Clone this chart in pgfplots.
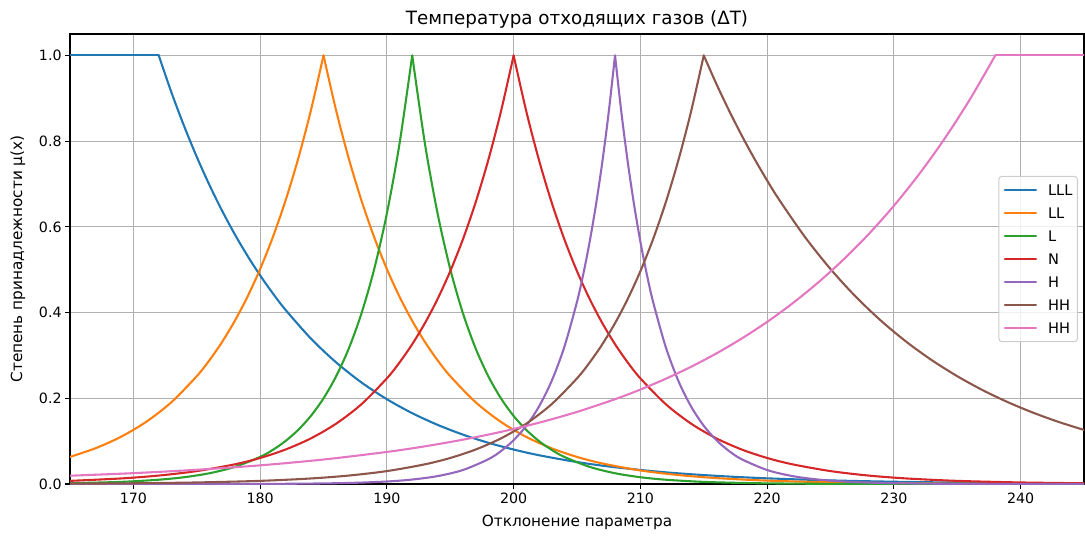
\documentclass[border=0pt]{standalone}
\usepackage{fontspec}
\setmainfont{DejaVu Sans}
\usepackage{pgfplots}
\pgfplotsset{compat=1.18}
\definecolor{c0}{HTML}{1F77B4}
\definecolor{c1}{HTML}{FF7F0E}
\definecolor{c2}{HTML}{2CA02C}
\definecolor{c3}{HTML}{D62728}
\definecolor{c4}{HTML}{9467BD}
\definecolor{c5}{HTML}{8C564B}
\definecolor{c6}{HTML}{E377C2}
\definecolor{gridc}{HTML}{B0B0B0}
\definecolor{legedge}{HTML}{CCCCCC}
\begin{document}
\begin{tikzpicture}
\begin{axis}[
  scale only axis, width=1014pt, height=450pt,
  xmin=165, xmax=245, ymin=0, ymax=1.05,
  xtick={170,180,190,200,210,220,230,240},
  ytick={0,0.2,0.4,0.6,0.8,1},
  /pgf/number format/assume math mode=true,
  yticklabel style={/pgf/number format/.cd, fixed, fixed zerofill, precision=1},
  scaled y ticks=false,
  ticklabel style={font=\fontsize{14.2}{16}\selectfont},
  tick align=outside, tick pos=left, major tick length=4.9pt,
  tick style={black, line width=1.1pt},
  axis line style={black, line width=1.1pt},
  grid=major, grid style={color=gridc, line width=1.1pt},
  title={Температура отходящих газов (ΔT)},
  every axis title/.style={at={(axis description cs:0.5,1)}, anchor=base, yshift=9.5pt, font=\fontsize{18.3}{21}\selectfont},
  xlabel={Отклонение параметра},
  xlabel style={font=\fontsize{15.3}{18}\selectfont, at={(axis description cs:0.5,0)}, anchor=base, yshift=-42pt},
  ylabel={Степень принадлежности μ(x)},
  ylabel style={font=\fontsize{15.3}{18}\selectfont, at={(axis description cs:-0.0473,0.5)}, anchor=base},
  legend cell align=left,
  legend image code/.code={\draw[line width=2.08pt] (0pt,0pt) -- (31pt,0pt);},
  legend style={at={(axis description cs:0.994,0.5)}, anchor=east, draw=legedge, line width=1pt, rounded corners=3pt,
    fill=white, fill opacity=0.8, text opacity=1, draw opacity=1,
    inner xsep=5pt, inner ysep=8pt, row sep=12.5pt, column sep=11pt,
    font=\fontsize{14.6}{17}\selectfont,
    nodes={inner sep=0pt, text height=10.6pt, text depth=0pt}},
  every axis plot/.append style={line width=2.08pt, line join=round, line cap=round, no markers},
]
% LLL
\addplot[c0, forget plot] coordinates {(165,1) (172,1)};
\addplot[c0, smooth] coordinates {(172,1) (173,.9139) (174,.8353) (175,.7634) (176,.6977) (177,.6376) (178,.5827) (179,.5326) (180,.4868) (181,.4449) (182,.4066) (184,.3396) (186,.2837) (188,.2369) (190,.1979) (192,.1653) (194,.1381) (196,.1153) (198,.0963) (200,.0805) (202,.0672) (205,.0513) (208,.0392) (212,.0273) (216,.0191) (220,.0133) (225,.0085) (230,.0054) (235,.0034) (240,.0022) (245,.0014)};
\addlegendentry{LLL}
% LL
\addplot[c1, smooth, forget plot] coordinates {(165,.0633) (167,.0834) (169,.1099) (171,.1449) (173,.1909) (175,.2516) (176,.2888) (177,.3315) (178,.3806) (179,.4369) (180,.5016) (181,.5758) (182,.6610) (183,.7588) (184,.8711) (185,1)};
\addplot[c1, smooth] coordinates {(185,1) (186,.8711) (187,.7588) (188,.6610) (189,.5758) (190,.5016) (191,.4369) (192,.3806) (193,.3315) (194,.2888) (195,.2516) (197,.1909) (199,.1449) (201,.1099) (203,.0834) (205,.0633) (207,.0480) (210,.0317) (213,.0210) (216,.0139) (220,.0080) (225,.0040) (230,.0020) (235,.0010) (245,.0003)};
\addlegendentry{LL}
% L
\addplot[c2, smooth, forget plot] coordinates {(165,.0020) (169,.0050) (172,.0101) (174,.0159) (176,.0252) (178,.0400) (180,.0633) (181,.0797) (182,.1003) (183,.1262) (184,.1588) (185,.1999) (186,.2516) (187,.3166) (188,.3985) (189,.5016) (190,.6313) (191,.7945) (192,1)};
\addplot[c2, smooth] coordinates {(192,1) (193,.7945) (194,.6313) (195,.5016) (196,.3985) (197,.3166) (198,.2516) (199,.1999) (200,.1588) (201,.1262) (202,.1003) (203,.0797) (204,.0633) (206,.0400) (208,.0252) (210,.0159) (212,.0101) (215,.0050) (219,.0020) (224,.0006) (232,.0001) (245,0)};
\addlegendentry{L}
% N
\addplot[c3, smooth, forget plot] coordinates {(165,.0074) (169,.0130) (172,.0198) (175,.0302) (178,.0460) (180,.0608) (182,.0805) (184,.1065) (186,.1409) (188,.1864) (190,.2466) (191,.2837) (192,.3263) (193,.3753) (194,.4317) (195,.4966) (196,.5712) (197,.6570) (198,.7558) (199,.8694) (200,1)};
\addplot[c3, smooth] coordinates {(200,1) (201,.8694) (202,.7558) (203,.6570) (204,.5712) (205,.4966) (206,.4317) (207,.3753) (208,.3263) (209,.2837) (210,.2466) (212,.1864) (214,.1409) (216,.1065) (218,.0805) (220,.0608) (222,.0460) (225,.0302) (228,.0198) (231,.0130) (235,.0074) (240,.0037) (245,.0018)};
\addlegendentry{N}
% H
\addplot[c4, smooth, forget plot] coordinates {(165,0) (178,.0002) (183,.0008) (187,.0025) (190,.0059) (192,.0105) (194,.0185) (196,.0327) (198,.0578) (199,.0769) (200,.1023) (201,.1360) (202,.1809) (203,.2405) (204,.3198) (205,.4253) (205.5,.4904) (206,.5655) (206.5,.6522) (207,.7520) (207.5,.8672) (208,1)};
\addplot[c4, smooth] coordinates {(208,1) (208.5,.8672) (209,.7520) (209.5,.6522) (210,.5655) (210.5,.4904) (211,.4253) (212,.3198) (213,.2405) (214,.1809) (215,.1360) (216,.1023) (217,.0769) (218,.0578) (220,.0327) (222,.0185) (224,.0105) (226,.0059) (229,.0025) (233,.0008) (238,.0002) (245,0)};
\addlegendentry{H}
% HH (brown)
\addplot[c5, smooth, forget plot] coordinates {(165,.0009) (170,.0018) (175,.0037) (180,.0074) (184,.0130) (187,.0198) (190,.0302) (193,.0460) (195,.0608) (197,.0805) (199,.1065) (201,.1409) (203,.1864) (205,.2466) (206,.2837) (207,.3263) (208,.3753) (209,.4317) (210,.4966) (211,.5712) (212,.6570) (213,.7558) (214,.8694) (215,1)};
\addplot[c5, smooth] coordinates {(215,1) (216,.9333) (217,.8711) (218,.8130) (219,.7588) (220,.7082) (221,.6610) (223,.5758) (225,.5016) (227,.4369) (229,.3806) (231,.3315) (233,.2888) (235,.2516) (237,.2191) (239,.1909) (241,.1663) (243,.1449) (245,.1262)};
\addlegendentry{HH}
% HH (pink)
\addplot[c6, smooth, forget plot] coordinates {(238,1) (245,1)};
\addplot[c6, smooth] coordinates {(165,.0194) (170,.0254) (175,.0333) (180,.0436) (185,.0572) (190,.0749) (193,.0880) (196,.1035) (199,.1217) (202,.1431) (205,.1683) (208,.1979) (210,.2205) (212,.2456) (214,.2736) (216,.3048) (218,.3396) (220,.3783) (222,.4215) (224,.4696) (226,.5231) (228,.5827) (230,.6492) (232,.7233) (234,.8057) (236,.8976) (238,1)};
\addlegendentry{HH}
\end{axis}
\path ([shift={(-70pt,-51pt)}]current axis.south west) rectangle ([shift={(1pt,34pt)}]current axis.north east);
\end{tikzpicture}
\end{document}
